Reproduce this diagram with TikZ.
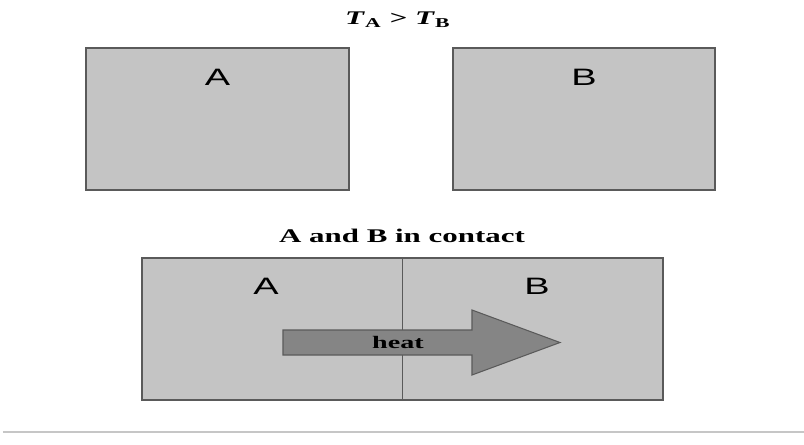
\documentclass[tikz,border=0pt]{standalone}
\usepackage{fontspec}
\setmainfont{Liberation Serif}
\setsansfont{Liberation Sans}
\usetikzlibrary{positioning}

\definecolor{boxfill}{HTML}{C4C4C4}
\definecolor{boxline}{HTML}{5A5A5A}
\definecolor{heatfill}{HTML}{858585}

\tikzset{
  body/.style={draw=boxline, line width=1.1pt, fill=boxfill, inner sep=0pt},
  lbl/.style={font=\sffamily\fontsize{13.5}{15}\selectfont, xscale=1.6, transform shape},
  ttl/.style={font=\bfseries\fontsize{11}{13}\selectfont, xscale=1.6, transform shape}
}

\begin{document}
\begin{tikzpicture}

\useasboundingbox (0,0) rectangle (16.08,8.88);

% Zwei getrennte Koerper
\node[ttl] (cond) at (7.96,8.48) {\textit{T}\textsubscript{A} > \textit{T}\textsubscript{B}};
\node[body, minimum width=5.26cm, minimum height=2.84cm] (boxA) at (4.35,6.5) {};
\node[body, minimum width=5.24cm, minimum height=2.84cm] (boxB) at (11.68,6.5) {};
\node[lbl] (labA) at ([yshift=-0.6cm]boxA.north) {A};
\node[lbl] (labB) at ([yshift=-0.6cm]boxB.north) {B};

% Koerper in Kontakt
\node[ttl] (contact) at (8.04,4.16) {A and B in contact};
\node[body, minimum width=10.42cm, minimum height=2.84cm] (pair) at (8.05,2.3) {};
\draw[boxline, line width=0.7pt] (pair.north) -- (pair.south);
\node[lbl] (labA2) at (5.32,3.16) {A};
\node[lbl] (labB2) at (10.74,3.16) {B};

% Waermefluss
\draw[boxline, line width=0.6pt, fill=heatfill]
  (5.66,2.28) -- (9.44,2.28) -- (9.44,2.68) -- (11.2,2.03) -- (9.44,1.38)
  -- (9.44,1.78) -- (5.66,1.78) -- cycle;
\node[font=\bfseries\fontsize{10}{12}\selectfont, xscale=1.6, transform shape] (heat) at (7.96,2.04) {heat};

% Trennlinie unten
\draw[gray!45, line width=1.2pt] (0.06,0.24) -- (16.08,0.24);
\end{tikzpicture}
\end{document}
